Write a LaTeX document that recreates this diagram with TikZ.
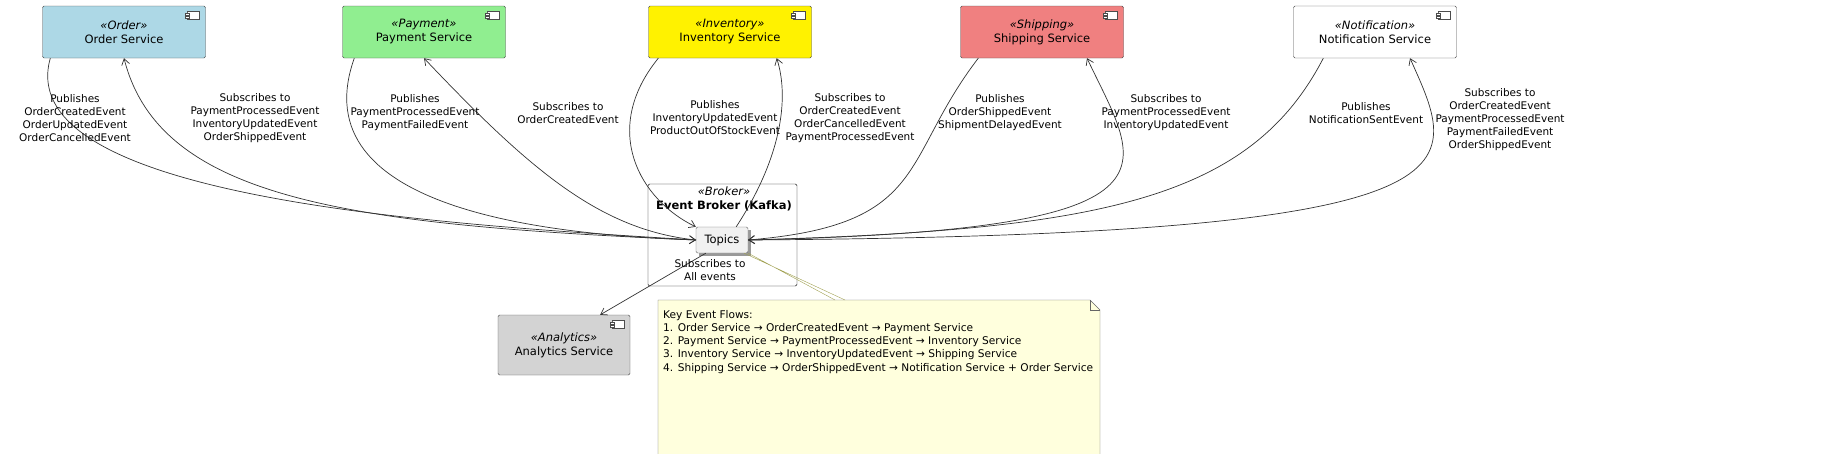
\documentclass[tikz,border=0pt]{standalone}
\usepackage{fontspec}
\setmainfont{DejaVu Sans}
\usetikzlibrary{arrows.meta,fit}
\begin{document}
\begin{tikzpicture}[x=1pt,y=-1pt,
 comp/.style={draw=black!70,rounded corners=1.5pt,minimum width=163pt,minimum height=52pt,align=center,font=\fontsize{11.5}{14}\selectfont},
 lbl/.style={align=center,font=\fontsize{10.5}{13}\selectfont,inner sep=1pt},
 e/.style={draw=black!80,line width=0.7pt},
 ar/.style={-{Straight Barb[length=6pt,width=8pt]}}]
\useasboundingbox (0,0) rectangle (1840,453);
\newcommand{\myicon}[1]{\draw[black!70,fill=white,line width=.5pt] ([xshift=-18pt,yshift=-5pt]#1.north east) rectangle ++(12,8); \draw[black!70,fill=white,line width=.5pt] ([xshift=-20pt,yshift=-7pt]#1.north east) rectangle ++(4,2) ([xshift=-20pt,yshift=-10pt]#1.north east) rectangle ++(4,2);}
\node[comp,fill={rgb,255:red,173;green,216;blue,230}] (ord) at (124,32) {\textit{«Order»}\\Order Service};
\node[comp,fill={rgb,255:red,144;green,238;blue,144}] (pay) at (424,32) {\textit{«Payment»}\\Payment Service};
\node[comp,fill=yellow] (inv) at (730,32) {\textit{«Inventory»}\\Inventory Service};
\node[comp,fill={rgb,255:red,240;green,128;blue,128}] (shp) at (1042,32) {\textit{«Shipping»}\\Shipping Service};
\node[comp,fill=white] (ntf) at (1375,32) {\textit{«Notification»}\\Notification Service};
\node[comp,fill={rgb,255:red,211;green,211;blue,211},minimum width=132pt,minimum height=60pt] (ana) at (564,345) {\textit{«Analytics»}\\Analytics Service};
\foreach \n in {ord,pay,inv,shp,ntf,ana}{\myicon{\n}}
\coordinate (b1) at (648,184); \coordinate (b2) at (797,286);
\node[draw=black,rounded corners=1.5pt,fit=(b1)(b2),inner sep=0pt] (brk) {};
\node[align=center,font=\fontsize{11.5}{14}\selectfont,anchor=north east,inner sep=0pt] (brkl) at (792,187) {\textit{«Broker»}\\\textbf{Event Broker (Kafka)}};
\fill[black!40] (699,230) rectangle (751,256);
\node[draw=black!60,fill={rgb,255:red,241;green,241;blue,241},rounded corners=1.5pt,minimum width=52pt,minimum height=26pt,font=\fontsize{11.5}{14}\selectfont] (top) at (722,240) {Topics};
\coordinate (tw) at (696,240);
\coordinate (te) at (748,240);
% order
\draw[e,ar] ([xshift=8pt]ord.south west) .. controls (10,200) and (450,225) .. (tw);
\draw[e,ar] (tw) .. controls (350,225) and (160,200) .. (ord.south);
\node[lbl] at (75,118) {Publishes\\OrderCreatedEvent\\OrderUpdatedEvent\\OrderCancelledEvent};
\node[lbl] at (255,118) {Subscribes to\\PaymentProcessedEvent\\InventoryUpdatedEvent\\OrderShippedEvent};
% payment
\draw[e,ar] ([xshift=12pt]pay.south west) .. controls (300,210) and (550,235) .. (tw);
\draw[e,ar] (tw) .. controls (600,230) and (530,170) .. (pay.south);
\node[lbl] at (415,113) {Publishes\\PaymentProcessedEvent\\PaymentFailedEvent};
\node[lbl] at (568,113) {Subscribes to\\OrderCreatedEvent};
% inventory
\draw[e,ar] ([xshift=10pt]inv.south west) .. controls (600,130) and (640,200) .. (top.north west);
\draw[e,ar] ([xshift=-12pt]top.north east) .. controls (780,160) and (790,100) .. ([xshift=-35pt]inv.south east);
\node[lbl] at (715,118) {Publishes\\InventoryUpdatedEvent\\ProductOutOfStockEvent};
\node[lbl] at (850,118) {Subscribes to\\OrderCreatedEvent\\OrderCancelledEvent\\PaymentProcessedEvent};
% shipping
\draw[e,ar] ([xshift=18pt]shp.south west) .. controls (900,160) and (930,225) .. (te);
\draw[e,ar] (te) .. controls (1200,230) and (1140,170) .. ([xshift=45pt]shp.south);
\node[lbl] at (1000,113) {Publishes\\OrderShippedEvent\\ShipmentDelayedEvent};
\node[lbl] at (1166,113) {Subscribes to\\PaymentProcessedEvent\\InventoryUpdatedEvent};
% notification
\draw[e,ar] ([xshift=30pt]ntf.south west) .. controls (1250,200) and (1100,230) .. (te);
\draw[e,ar] (te) .. controls (1500,235) and (1460,170) .. ([xshift=35pt]ntf.south);
\node[lbl] at (1366,113) {Publishes\\NotificationSentEvent};
\node[lbl] at (1500,120) {Subscribes to\\OrderCreatedEvent\\PaymentProcessedEvent\\PaymentFailedEvent\\OrderShippedEvent};
% analytics
\draw[e,ar] ([xshift=10pt]top.south west) -- ([xshift=-30pt]ana.north east);
\node[lbl] at (710,270) {Subscribes to\\All events};
% note
\draw[draw=black!60,fill={rgb,255:red,255;green,255;blue,221}] (658,300) -- (1090,300) -- (1100,310) -- (1100,458) -- (658,458) -- cycle;
\draw[draw=black!60] (1090,300) -- (1090,310) -- (1100,310);
\draw[draw={rgb,255:red,160;green,160;blue,80}] (top.south east) -- (835,300) ([xshift=-4pt]top.south east) -- (845,300);
\node[anchor=north west,align=left,font=\fontsize{10.6}{13.2}\selectfont,inner sep=0pt] (note) at (663,310) {Key Event Flows:\\1. Order Service → OrderCreatedEvent → Payment Service\\2. Payment Service → PaymentProcessedEvent → Inventory Service\\3. Inventory Service → InventoryUpdatedEvent → Shipping Service\\4. Shipping Service → OrderShippedEvent → Notification Service + Order Service};
\end{tikzpicture}
\end{document}
